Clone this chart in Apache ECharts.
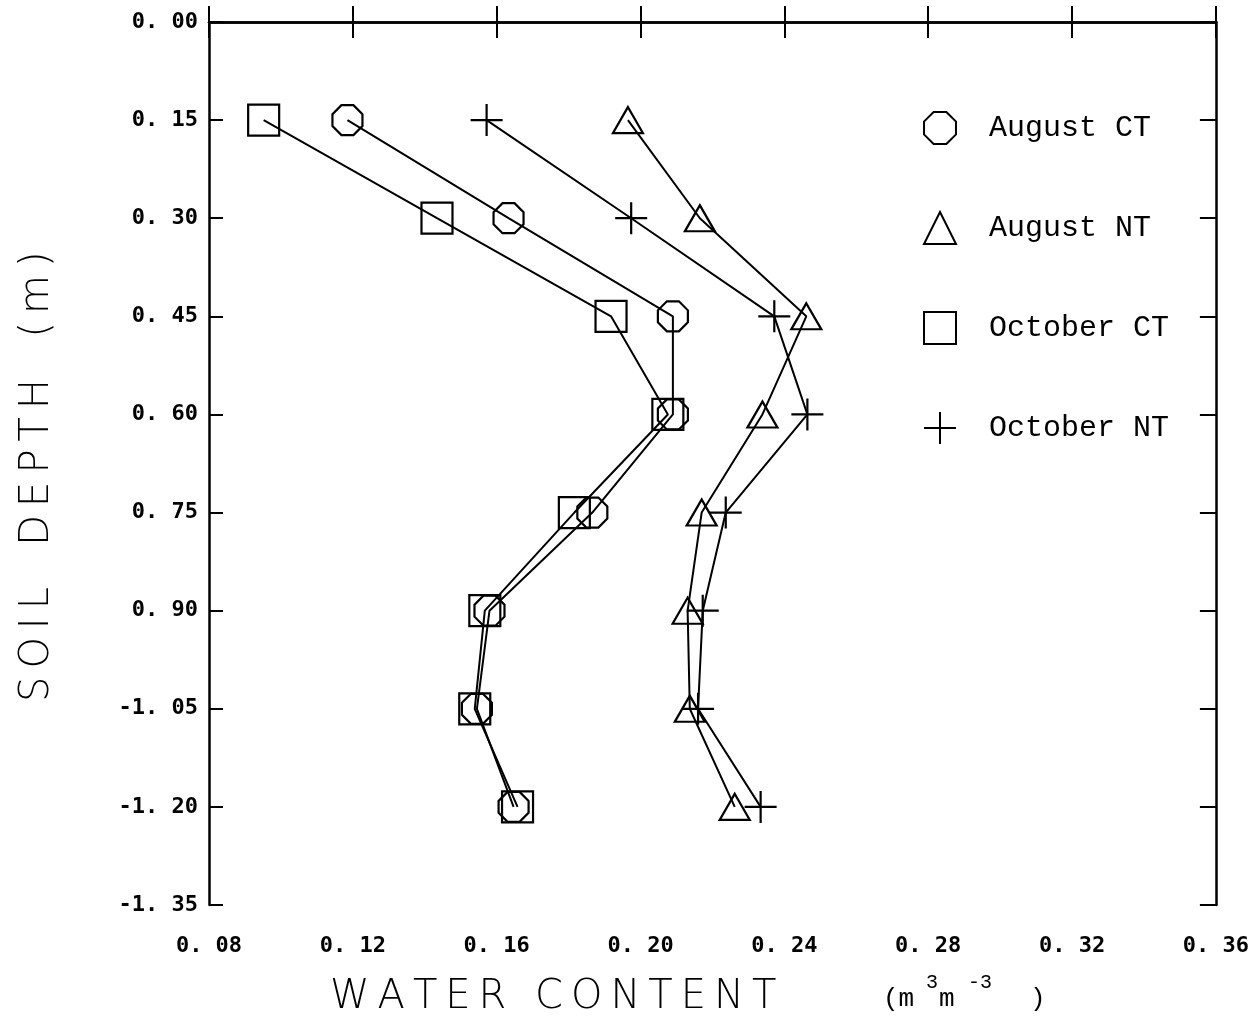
<!DOCTYPE html>
<html>
<head>
<meta charset="utf-8">
<script src="https://cdn.jsdelivr.net/npm/echarts@6/dist/echarts.min.js"></script>
<style>
html,body{margin:0;padding:0;background:#fff;}
#chart{width:1252px;height:1033px;}
</style>
</head>
<body>
<div id="chart"></div>
<script>
// ---- data ----
const depth = [-0.15, -0.30, -0.45, -0.60, -0.75, -0.90, -1.05, -1.20];
const augustCT  = [0.1185, 0.1633, 0.2090, 0.2090, 0.1866, 0.1580, 0.1545, 0.1647];
const augustNT  = [0.1965, 0.2165, 0.2461, 0.2339, 0.2170, 0.2131, 0.2137, 0.2262];
const octoberCT = [0.0952, 0.1434, 0.1918, 0.2076, 0.1816, 0.1567, 0.1539, 0.1658];
const octoberNT = [0.1572, 0.1974, 0.2372, 0.2464, 0.2237, 0.2173, 0.2160, 0.2334];
const seriesNames = ['August CT', 'August NT', 'October CT', 'October NT'];
const xTickLabels = ['0. 08','0. 12','0. 16','0. 20','0. 24','0. 28','0. 32','0. 36'];
const yTickLabels = ['0. 00','0. 15','0. 30','0. 45','0. 60','0. 75','0. 90','-1. 05','-1. 20','-1. 35'];

const OCTAGON = 'path://M3,0L7,0L10,3L10,7L7,10L3,10L0,7L0,3Z';
const PLUS = 'path://M0,5L10,5M5,0L5,10';
const symbols = [OCTAGON, 'triangle', 'rect', PLUS];
const sizes = [[30,30],[30,26],[31,31],[32,32]];
const values = [augustCT, augustNT, octoberCT, octoberNT];

const tickFont = {fontFamily:'DejaVu Sans Mono', fontWeight:'bold', fontSize:22, color:'#000'};

function pairs(xs){ return xs.map((x,i)=>[x, depth[i]]); }

const chart = echarts.init(document.getElementById('chart'), null, {renderer:'canvas'});
const axisLine = {show:true, lineStyle:{color:'#000', width:2.5}};
const axisTick = {show:true, inside:true, length:16, lineStyle:{color:'#000', width:2}};

chart.setOption({
  animation:false,
  backgroundColor:'#fff',
  grid:{left:209, right:33, top:22, bottom:128, containLabel:false},
  xAxis:[
    {type:'value', position:'bottom', min:0.08, max:0.36, interval:0.04,
     axisLine, axisTick, splitLine:{show:false},
     axisLabel:{margin:30, ...tickFont,
       formatter:v=>xTickLabels[Math.round((v-0.08)/0.04)]}},
    {type:'value', position:'top', min:0.08, max:0.36, interval:0.04,
     axisLine, axisTick, splitLine:{show:false}, axisLabel:{show:false}}
  ],
  yAxis:[
    {type:'value', position:'left', min:-1.35, max:0, interval:0.15,
     axisLine, axisTick:{show:true, inside:true, length:14, lineStyle:{color:'#000', width:2}},
     splitLine:{show:false},
     axisLabel:{margin:11, ...tickFont,
       formatter:v=>yTickLabels[Math.round(-v/0.15)]}},
    {type:'value', position:'right', min:-1.35, max:0, interval:0.15,
     axisLine, axisTick:{show:true, inside:true, length:16, lineStyle:{color:'#000', width:2}},
     splitLine:{show:false}, axisLabel:{show:false}}
  ],
  legend:{
    orient:'vertical', left:918, top:106, itemWidth:32, itemHeight:32, itemGap:66,
    data: seriesNames.map((n,i)=>({name:n, icon:symbols[i]})),
    itemStyle:{color:'rgba(0,0,0,0)', borderColor:'#000', borderWidth:2},
    textStyle:{fontFamily:'Liberation Mono', fontSize:30, color:'#000', padding:[0,0,0,28]}
  },
  series: seriesNames.map((n,i)=>({
    name:n, type:'line', xAxisIndex:0, yAxisIndex:0,
    data:pairs(values[i]),
    symbol:symbols[i], symbolSize:sizes[i], showSymbol:true,
    lineStyle:{color:'#000', width:2},
    itemStyle:{color:'rgba(0,0,0,0)', borderColor:'#000', borderWidth:2.2},
    emphasis:{disabled:true}
  })),
  graphic:[
    {type:'text', left:330, top:978,
     style:{text:'W\u2009A\u2009T\u2009E\u2009R\u2009 \u2009C\u2009O\u2009N\u2009T\u2009E\u2009N\u2009T',
            font:'200 40px "DejaVu Sans"', fill:'#000'}},
    {type:'text', left:883, top:986, style:{text:'(m', font:'26px "Liberation Mono"', fill:'#000'}},
    {type:'text', left:926, top:973, style:{text:'3', font:'20px "Liberation Mono"', fill:'#000'}},
    {type:'text', left:939, top:986, style:{text:'m', font:'26px "Liberation Mono"', fill:'#000'}},
    {type:'text', left:968, top:973, style:{text:'-3', font:'20px "Liberation Mono"', fill:'#000'}},
    {type:'text', left:1030, top:986, style:{text:')', font:'26px "Liberation Mono"', fill:'#000'}},
    {type:'text', x:18, y:702, rotation:Math.PI/2,
     style:{text:'S\u2009O\u2009I\u2009L\u2009 \u2009 D\u2009E\u2009P\u2009T\u2009H\u2009 \u2009 (\u2009m\u2009)',
            font:'200 40px "DejaVu Sans"', fill:'#000', verticalAlign:'top'}}
  ]
});
</script>
</body>
</html>
